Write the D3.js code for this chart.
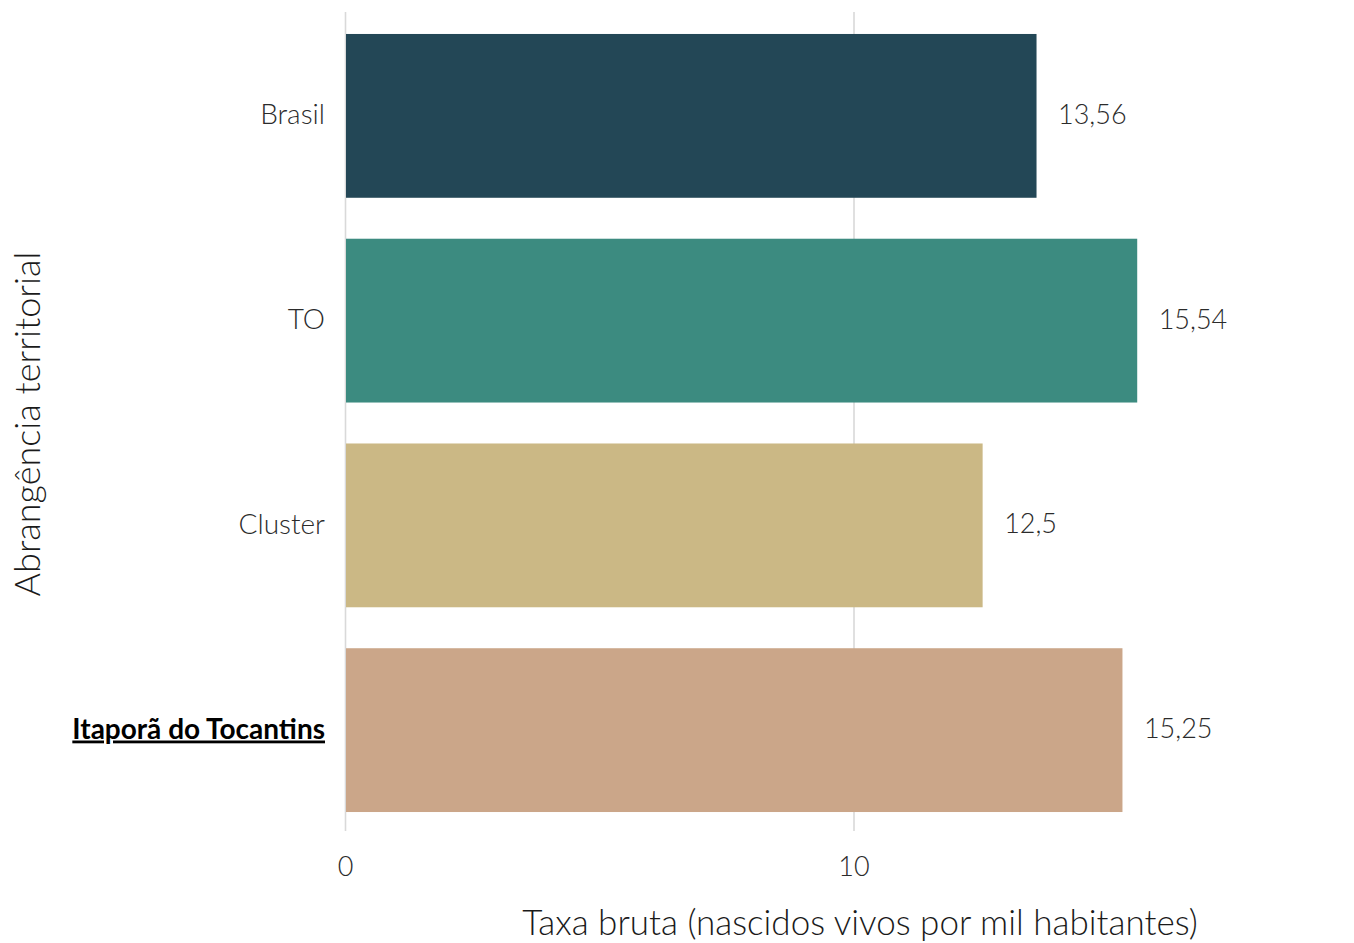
<!DOCTYPE html>
<html><head><meta charset="utf-8">
<script src="https://cdn.jsdelivr.net/npm/d3@7"></script>
<style>body{margin:0;background:#fff}svg{display:block}text{font-family:Lato,sans-serif}</style>
</head><body>
<script>
const categories = ["Brasil","TO","Cluster","Itaporã do Tocantins"];
const values = [13.56, 15.54, 12.5, 15.25];
const valueLabels = ["13,56","15,54","12,5","15,25"];
const colors = ["#234756","#3c8b80","#cbb885","#cba689"];
const xTicks = [0, 10];
const highlight = "Itaporã do Tocantins";

const W = 1354, H = 943;
const svg = d3.select("body").append("svg").attr("width", W).attr("height", H);

const x = d3.scaleLinear().domain([0, 10]).range([345.5, 854]);
const y = d3.scaleBand().domain(categories).range([13.5, 832.5]).paddingInner(0.2).paddingOuter(0.1);

// gridlines
svg.append("g").selectAll("line").data(xTicks).join("line")
  .attr("x1", d => x(d)).attr("x2", d => x(d))
  .attr("y1", 12).attr("y2", 831)
  .attr("stroke", "#d9d9d9").attr("stroke-width", 1.6);

// bars
svg.append("g").selectAll("rect").data(categories).join("rect")
  .attr("x", x(0) + 0.5).attr("y", d => y(d))
  .attr("width", (d, i) => x(values[i]) - x(0) + 1)
  .attr("height", y.bandwidth())
  .attr("fill", (d, i) => colors[i]);

// value labels
svg.append("g").selectAll("text").data(categories).join("text")
  .attr("x", (d, i) => x(values[i]) + 23)
  .attr("y", d => y(d) + y.bandwidth() / 2)
  .attr("dy", "0.3em")
  .attr("font-size", 27).attr("font-weight", 300).attr("fill", "#2b2b2b")
  .text((d, i) => valueLabels[i]);

// y axis labels
svg.append("g").selectAll("text").data(categories).join("text")
  .attr("x", 325)
  .attr("y", d => y(d) + y.bandwidth() / 2)
  .attr("dy", "0.3em")
  .attr("text-anchor", "end")
  .attr("font-size", 28)
  .attr("font-weight", d => d === highlight ? 700 : 300)
  .attr("text-decoration", d => d === highlight ? "underline" : null)
  .attr("fill", d => d === highlight ? "#000" : "#2b2b2b")
  .text(d => d);

// x tick labels
svg.append("g").selectAll("text").data(xTicks).join("text")
  .attr("x", d => x(d)).attr("y", 876)
  .attr("text-anchor", "middle")
  .attr("font-size", 27).attr("font-weight", 300).attr("fill", "#2b2b2b")
  .text(d => d);

// axis titles
svg.append("text").attr("x", 860).attr("y", 935)
  .attr("text-anchor", "middle").attr("font-size", 35).attr("font-weight", 300).attr("fill", "#1a1a1a")
  .text("Taxa bruta (nascidos vivos por mil habitantes)");

svg.append("text").attr("transform", "translate(40,424) rotate(-90)")
  .attr("text-anchor", "middle").attr("font-size", 36).attr("font-weight", 300).attr("fill", "#1a1a1a")
  .text("Abrangência territorial");
</script>
</body></html>
